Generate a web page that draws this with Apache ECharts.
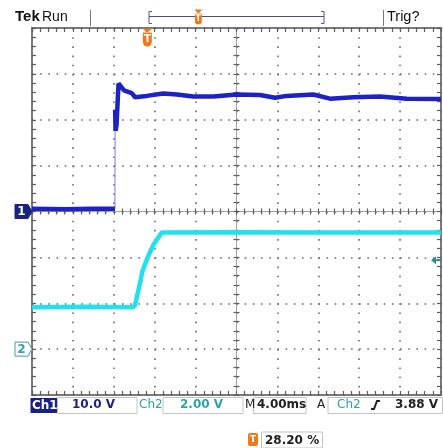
<!DOCTYPE html>
<html>
<head>
<meta charset="utf-8">
<script src="https://cdn.jsdelivr.net/npm/echarts@6/dist/echarts.min.js"></script>
<style>
  html, body { margin: 0; padding: 0; background: #fff; }
  #scope { width: 443px; height: 448px; }
</style>
</head>
<body>
<div id="scope"></div>
<script>
// readings off the screen: time in ms (trigger at 0), level in volts
var ch1Time = [-11.28, -8.0, -5.5, -3.17, -3.15, -3.11, -3.01, -2.82, -2.28, -1.53, -1.20, -0.06, 1.56, 2.88, 4.50, 6.45, 8.74, 11.02, 12.49, 13.63, 16.23, 17.86, 20.15, 22.76, 25.37, 28.72];
var ch1Volt = [0.6, 0.5, 0.6, 0.6, 22.2, 17.6, 18.9, 27.9, 26.4, 25.8, 24.9, 25.2, 25.7, 25.5, 25.05, 25.05, 25.5, 25.4, 24.8, 25.2, 25.5, 24.6, 24.9, 25.05, 24.6, 24.55];
var ch2Time = [-11.28, -6.0, -1.37, -1.20, -0.71, -0.49, -0.06, 0.59, 1.41, 8.0, 18.0, 28.72];
var ch2Volt = [1.83, 1.85, 1.83, 1.93, 2.88, 3.39, 3.90, 4.55, 5.08, 5.10, 5.08, 5.08];

// scope settings shown on screen
var msPerDiv = 4;
var ch1VoltsPerDiv = 10;
var ch2VoltsPerDiv = 2;
var ch1Offset = 0;     // ground marker, in divisions from centre
var ch2Offset = -3;
var trigPercent = 28.2;
var trigLevel = 3.88;

var GREY = '#7a7a7a';
var TICK = '#5c5c5c';
var CH1 = '#1c22c6';
var CH2 = '#22e0ee';
var CH1_TXT = '#1a237e';
var CH2_TXT = '#2aa3a6';
var ORANGE = '#ec7a1c';
var FONT = '"DejaVu Sans", sans-serif';
var HEAD = '"Liberation Sans", sans-serif';

var trigDiv = -5 + trigPercent / 10;   // trigger point on the 10-div screen

function toDiv(time, volt, vpd, off) {
  var out = [];
  for (var i = 0; i < time.length; i++) {
    out.push([time[i] / msPerDiv + trigDiv, volt[i] / vpd + off]);
  }
  return out;
}

// split a trace at its fast edge so the edge can be drawn thin
function splitEdges(pts) {
  var body = [], edges = [];
  for (var i = 0; i < pts.length; i++) {
    if (i > 0 && Math.abs(pts[i][1] - pts[i - 1][1]) > 1) {
      body.push(null);
      edges.push(pts[i - 1], pts[i], null);
    }
    body.push(pts[i]);
  }
  return { body: body, edges: edges };
}

var ch1 = splitEdges(toDiv(ch1Time, ch1Volt, ch1VoltsPerDiv, ch1Offset));
var ch2 = toDiv(ch2Time, ch2Volt, ch2VoltsPerDiv, ch2Offset);

var divW = 409 / 10, divH = 367 / 8;

// one graticule axis: edge ones carry the dotted grid, centre ones sit on zero
function makeAxis(pos, half, inside, onZero, tickLen, dashLen) {
  return {
    type: 'value', min: -half, max: half, interval: 1, position: pos,
    axisLabel: { show: false },
    axisLine: { show: onZero, onZero: onZero, onZeroAxisIndex: 0, lineStyle: { color: '#a0a0a0', width: 1 } },
    axisTick: { show: true, inside: inside, length: tickLen, lineStyle: { color: TICK, width: 1.2 } },
    minorTick: { show: true, splitNumber: 5, length: tickLen, lineStyle: { color: TICK, width: 1.2 } },
    splitLine: dashLen ? { show: true, lineStyle: { color: '#6a6a6a', width: 1.6, type: [1.6, dashLen - 1.6] } } : { show: false }
  };
}

var xAxes = [
  makeAxis('bottom', 5, true, false, 4, divH / 5),
  makeAxis('top', 5, true, false, 4),
  makeAxis('bottom', 5, true, true, 3),
  makeAxis('bottom', 5, false, true, 3)
];
var yAxes = [
  makeAxis('left', 4, true, false, 4, divW / 5),
  makeAxis('right', 4, true, false, 4),
  makeAxis('left', 4, true, true, 3),
  makeAxis('left', 4, false, true, 3)
];

var chart = echarts.init(document.getElementById('scope'));
chart.setOption({
  animation: false,
  backgroundColor: '#fff',
  grid: { left: 32, right: 2, top: 28, bottom: 53, show: true, borderColor: GREY, borderWidth: 2, backgroundColor: 'transparent', outerBoundsMode: 'none' },
  xAxis: xAxes,
  yAxis: yAxes,
  series: [
    { type: 'line', data: ch2, showSymbol: false, lineStyle: { color: CH2, width: 4.5 }, z: 3 },
    { type: 'line', data: ch1.edges, showSymbol: false, connectNulls: false, lineStyle: { color: '#7a7fe0', width: 1 }, z: 3 },
    { type: 'line', data: ch1.body, showSymbol: false, connectNulls: false, lineStyle: { color: CH1, width: 4.5 }, z: 4 }
  ]
});

function px(x, y) { return chart.convertToPixel({ gridIndex: 0 }, [x, y]); }
function txt(s, x, y, color, size, weight, align, family) {
  return { type: 'text', z: 50, style: { text: s, x: x, y: y, fill: color, font: (weight || 'normal') + ' ' + size + 'px ' + (family || FONT), align: align || 'left', verticalAlign: 'middle' } };
}
function box(x1, y1, x2, y2) {
  return { type: 'rect', z: 40, shape: { x: x1, y: y1, width: x2 - x1, height: y2 - y1 }, style: { fill: 'none', stroke: '#c4c4c4', lineWidth: 1 } };
}
function tMark(cx, top, w, h, fs) {
  return [
    { type: 'polygon', z: 50, shape: { points: [[cx - w / 2 - 0.5, top], [cx + w / 2 + 0.5, top], [cx, top + 4]] }, style: { fill: ORANGE } },
    { type: 'rect', z: 50, shape: { x: cx - w / 2, y: top + 4, width: w, height: h, r: [1, 1, w / 2, w / 2] }, style: { fill: ORANGE } },
    txt('T', cx, top + 4 + h / 2, '#fff', fs, 'bold', 'center')
  ];
}
function groundMark(label, y, filled, color) {
  return [
    { type: 'polygon', z: 50, shape: { points: [[15, y - 7], [28, y - 7], [32, y], [28, y + 7], [15, y + 7]] },
      style: { fill: filled ? color : '#fff', stroke: color, lineWidth: 1 } },
    txt(label, 21.5, y + 0.5, filled ? '#fff' : color, 12, 'bold', 'center')
  ];
}

var trigPx = px(trigDiv, 0)[0];
var g1 = px(0, ch1Offset)[1];
var g2 = px(0, ch2Offset)[1];
var tl = px(0, trigLevel / ch2VoltsPerDiv + ch2Offset)[1];
var barL = 149, barR = 324, barX = barL + (barR - barL) * trigPercent / 100;

var gfx = [
  // header
  txt('Tek', 15, 17, '#111', 15, 'bold', 'left', HEAD),
  txt('Run', 42, 17, '#111', 14, 'normal', 'left', HEAD),
  { type: 'line', z: 40, shape: { x1: 90.5, y1: 10, x2: 90.5, y2: 26 }, style: { stroke: GREY, lineWidth: 1 } },
  { type: 'line', z: 40, shape: { x1: 383.5, y1: 10, x2: 383.5, y2: 26 }, style: { stroke: GREY, lineWidth: 1 } },
  txt('Trig?', 387, 17, '#111', 14.5, 'normal', 'left', HEAD),
  { type: 'polyline', z: 40, shape: { points: [[barL + 3, 11.5], [barL, 11.5], [barL, 23.5], [barL + 3, 23.5]] }, style: { stroke: '#55559a', lineWidth: 1, fill: 'none' } },
  { type: 'polyline', z: 40, shape: { points: [[barR - 3, 11.5], [barR, 11.5], [barR, 23.5], [barR - 3, 23.5]] }, style: { stroke: '#55559a', lineWidth: 1, fill: 'none' } },
  { type: 'line', z: 40, shape: { x1: barL, y1: 16.5, x2: barR, y2: 16.5 }, style: { stroke: '#4b4b9c', lineWidth: 1 } },
  // trigger level arrow on the right edge
  { type: 'polygon', z: 50, shape: { points: [[431, tl], [436, tl - 4], [436, tl + 4]] }, style: { fill: '#2b8c90' } },
  { type: 'line', z: 50, shape: { x1: 435, y1: tl, x2: 441, y2: tl }, style: { stroke: '#2b8c90', lineWidth: 2 } },
  // readout line
  { type: 'rect', z: 40, shape: { x: 30.5, y: 398, width: 27, height: 15 }, style: { fill: '#1a2182' } },
  txt('Ch1', 32, 406, '#fff', 12, 'bold'),
  box(57.5, 397.5, 137, 413.5),
  txt('10.0 V', 72, 405, CH1_TXT, 12, 'bold'),
  txt('Ch2', 139, 405, CH2_TXT, 12),
  box(163, 397.5, 243, 413.5),
  txt('2.00 V', 180, 405, CH2_TXT, 12, 'bold'),
  txt('M', 245, 405, '#222', 12),
  box(253.5, 397.5, 306, 413.5),
  txt('4.00ms', 257, 405, '#222', 12, 'bold'),
  txt('A', 317, 405, '#222', 12),
  box(328, 397.5, 442.5, 413.5),
  txt('Ch2', 337, 405, CH2_TXT, 12),
  { type: 'polyline', z: 50, shape: { points: [[371, 409], [374, 409], [377, 401], [380, 401]] }, style: { stroke: '#222', lineWidth: 2, fill: 'none' } },
  txt('3.88 V', 395, 405, '#222', 12, 'bold'),
  // trigger position readout
  { type: 'rect', z: 50, shape: { x: 248, y: 433, width: 10, height: 13, r: 2 }, style: { fill: ORANGE } },
  txt('T', 253, 440, '#fff', 9, 'bold', 'center'),
  box(261.5, 432, 322.5, 448),
  txt('28.20 %', 265, 441, '#222', 12, 'bold')
];
gfx = gfx.concat(tMark(trigPx, 28.5, 9, 14, 10));
gfx = gfx.concat(tMark(barX, 9.5, 7, 11, 8));
gfx = gfx.concat(groundMark('1', g1, true, CH1_TXT));
gfx = gfx.concat(groundMark('2', g2, false, '#39a2a4'));

chart.setOption({ graphic: { elements: gfx } });
window.addEventListener('resize', chart.resize);
</script>
</body>
</html>
